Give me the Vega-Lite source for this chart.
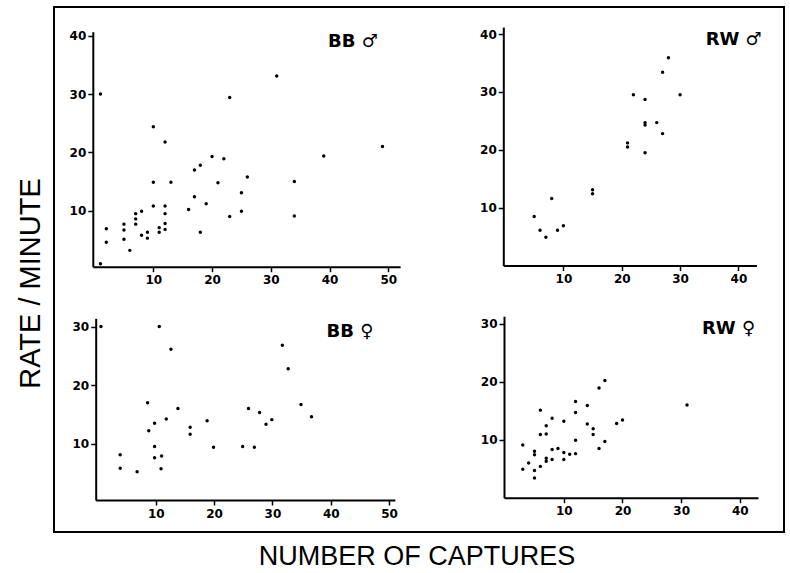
{
  "$schema": "https://vega.github.io/schema/vega-lite/v6.json",
  "width": 730,
  "height": 525,
  "autosize": {"type": "none"},
  "padding": {"left": 54, "top": 7, "right": 6, "bottom": 41},
  "background": "white",
  "title": {"text": "RATE / MINUTE", "orient": "left", "anchor": "middle", "font": "Liberation Sans", "fontSize": 29, "fontWeight": "normal", "color": "black", "offset": 8, "dx": -14},
  "config": {
    "view": {"stroke": "black", "strokeWidth": 2},
    "axis": {"domainColor": "black", "domainWidth": 2, "tickColor": "black", "tickWidth": 1.5, "tickSize": 5, "labelFont": "DejaVu Sans", "labelFontWeight": "bold", "labelFontSize": 12, "labelColor": "black", "grid": false, "labelFlush": false, "labelOverlap": false},
    "axisY": {"labelPadding": 2},
    "axisX": {"labelPadding": 3},
    "text": {"font": "DejaVu Sans", "fontWeight": "bold", "fontSize": 18, "color": "black", "align": "right", "baseline": "middle"},
    "circle": {"size": 12, "color": "black", "opacity": 1}
  },
  "datasets": {
    "bbm": [
      {"captures": 1, "rate": 30}, {"captures": 1, "rate": 0.9}, {"captures": 2, "rate": 6.9}, {"captures": 2, "rate": 4.6},
      {"captures": 5, "rate": 7.7}, {"captures": 5, "rate": 6.7}, {"captures": 5, "rate": 5.1}, {"captures": 6, "rate": 3.2},
      {"captures": 7, "rate": 9.5}, {"captures": 7, "rate": 8.6}, {"captures": 7, "rate": 7.7}, {"captures": 8, "rate": 9.9},
      {"captures": 8, "rate": 5.8}, {"captures": 9, "rate": 6.3}, {"captures": 9, "rate": 5.3}, {"captures": 10, "rate": 24.4},
      {"captures": 10, "rate": 14.9}, {"captures": 10, "rate": 10.8}, {"captures": 11, "rate": 7.1}, {"captures": 11, "rate": 6.3},
      {"captures": 12, "rate": 21.8}, {"captures": 12, "rate": 10.8}, {"captures": 12, "rate": 9.5}, {"captures": 12, "rate": 7.8},
      {"captures": 12, "rate": 6.8}, {"captures": 13, "rate": 14.9}, {"captures": 16, "rate": 10.2}, {"captures": 17, "rate": 17},
      {"captures": 17, "rate": 12.4}, {"captures": 18, "rate": 17.8}, {"captures": 18, "rate": 6.3}, {"captures": 19, "rate": 11.2},
      {"captures": 20, "rate": 19.3}, {"captures": 21, "rate": 14.8}, {"captures": 22, "rate": 18.9}, {"captures": 23, "rate": 29.4},
      {"captures": 23, "rate": 9.0}, {"captures": 25, "rate": 13.1}, {"captures": 25, "rate": 9.9}, {"captures": 26, "rate": 15.8},
      {"captures": 31, "rate": 33.1}, {"captures": 34, "rate": 15}, {"captures": 34, "rate": 9.1}, {"captures": 39, "rate": 19.4},
      {"captures": 49, "rate": 21}
    ],
    "rwm": [
      {"captures": 5, "rate": 8.5}, {"captures": 6, "rate": 6.1}, {"captures": 7, "rate": 4.9}, {"captures": 8, "rate": 11.6},
      {"captures": 9, "rate": 6.1}, {"captures": 10, "rate": 6.9}, {"captures": 15, "rate": 13.1}, {"captures": 15, "rate": 12.4},
      {"captures": 21, "rate": 21.2}, {"captures": 21, "rate": 20.5}, {"captures": 22, "rate": 29.5}, {"captures": 24, "rate": 28.7},
      {"captures": 24, "rate": 24.7}, {"captures": 24, "rate": 24.3}, {"captures": 24, "rate": 19.5}, {"captures": 26, "rate": 24.7},
      {"captures": 27, "rate": 33.4}, {"captures": 27, "rate": 22.8}, {"captures": 28, "rate": 35.9}, {"captures": 30, "rate": 29.5}
    ],
    "bbf": [
      {"captures": 0.6, "rate": 30}, {"captures": 10.6, "rate": 30}, {"captures": 12.6, "rate": 26.1}, {"captures": 3.9, "rate": 8.1},
      {"captures": 3.9, "rate": 5.8}, {"captures": 6.8, "rate": 5.2}, {"captures": 8.6, "rate": 17}, {"captures": 8.8, "rate": 12.2},
      {"captures": 9.8, "rate": 13.5}, {"captures": 9.8, "rate": 9.5}, {"captures": 9.8, "rate": 7.6}, {"captures": 11, "rate": 7.9},
      {"captures": 10.9, "rate": 5.7}, {"captures": 11.8, "rate": 14.2}, {"captures": 13.8, "rate": 16}, {"captures": 15.9, "rate": 12.8},
      {"captures": 15.9, "rate": 11.6}, {"captures": 18.8, "rate": 13.9}, {"captures": 19.9, "rate": 9.4}, {"captures": 24.9, "rate": 9.5},
      {"captures": 25.9, "rate": 16}, {"captures": 26.9, "rate": 9.4}, {"captures": 27.8, "rate": 15.3}, {"captures": 28.9, "rate": 13.3},
      {"captures": 29.9, "rate": 14.1}, {"captures": 31.7, "rate": 26.8}, {"captures": 32.7, "rate": 22.8}, {"captures": 34.9, "rate": 16.7},
      {"captures": 36.7, "rate": 14.6}
    ],
    "rwf": [
      {"captures": 3, "rate": 9.1}, {"captures": 3, "rate": 4.9}, {"captures": 4, "rate": 6}, {"captures": 5, "rate": 8},
      {"captures": 5, "rate": 7.4}, {"captures": 5, "rate": 4.7}, {"captures": 5, "rate": 3.4}, {"captures": 6, "rate": 15.1},
      {"captures": 6, "rate": 10.9}, {"captures": 6, "rate": 5.4}, {"captures": 7, "rate": 12.4}, {"captures": 7, "rate": 11},
      {"captures": 7, "rate": 6.8}, {"captures": 7, "rate": 6.3}, {"captures": 8, "rate": 13.7}, {"captures": 8, "rate": 8.3},
      {"captures": 8, "rate": 6.6}, {"captures": 9, "rate": 8.5}, {"captures": 10, "rate": 13.2}, {"captures": 10, "rate": 7.8},
      {"captures": 10, "rate": 6.6}, {"captures": 11, "rate": 7.5}, {"captures": 12, "rate": 16.6}, {"captures": 12, "rate": 14.7},
      {"captures": 12, "rate": 9.9}, {"captures": 12, "rate": 7.6}, {"captures": 14, "rate": 15.9}, {"captures": 14, "rate": 12.7},
      {"captures": 15, "rate": 11.9}, {"captures": 15, "rate": 10.9}, {"captures": 16, "rate": 18.9}, {"captures": 16, "rate": 8.5},
      {"captures": 17, "rate": 20.2}, {"captures": 17, "rate": 9.7}, {"captures": 19, "rate": 12.8}, {"captures": 20, "rate": 13.4},
      {"captures": 31, "rate": 16}
    ]
  },
  "layer": [
    {
      "data": {"name": "bbm"},
      "mark": {"type": "circle"},
      "encoding": {
        "x": {"field": "captures", "type": "quantitative", "scale": {"domain": [-0.3, 52], "range": [38.8, 346.1], "nice": false, "zero": false},
              "axis": {"orient": "bottom", "offset": -265.3, "values": [10, 20, 30, 40, 50], "title": null}},
        "y": {"field": "rate", "type": "quantitative", "scale": {"domain": [0.4, 40.7], "range": [259.7, 24.7], "nice": false, "zero": false},
              "axis": {"orient": "left", "offset": -38.8, "values": [10, 20, 30, 40], "title": null}}
      }
    },
    {
      "data": {"name": "rwm"},
      "mark": {"type": "circle"},
      "encoding": {
        "x": {"field": "captures", "type": "quantitative", "scale": {"domain": [-0.3, 43.1], "range": [449.3, 702.5], "nice": false, "zero": false},
              "axis": {"orient": "bottom", "offset": -266.4, "values": [10, 20, 30, 40], "title": null}},
        "y": {"field": "rate", "type": "quantitative", "scale": {"domain": [0, 41.2], "range": [258.6, 20.1], "nice": false, "zero": false},
              "axis": {"orient": "left", "offset": -449.3, "values": [10, 20, 30, 40], "title": null}}
      }
    },
    {
      "data": {"name": "bbf"},
      "mark": {"type": "circle"},
      "encoding": {
        "x": {"field": "captures", "type": "quantitative", "scale": {"domain": [-0.3, 51], "range": [41.7, 340.9], "nice": false, "zero": false},
              "axis": {"orient": "bottom", "offset": -32, "values": [10, 20, 30, 40, 50], "title": "NUMBER OF CAPTURES", "titleX": 362.5, "titleY": 56.5, "titleAlign": "center", "titleBaseline": "middle", "titleFont": "Liberation Sans", "titleFontSize": 27, "titleFontWeight": "normal", "titleColor": "black"}},
        "y": {"field": "rate", "type": "quantitative", "scale": {"domain": [0.38, 31.4], "range": [493, 311.3], "nice": false, "zero": false},
              "axis": {"orient": "left", "offset": -41.7, "values": [10, 20, 30], "title": null}}
      }
    },
    {
      "data": {"name": "rwf"},
      "mark": {"type": "circle"},
      "encoding": {
        "x": {"field": "captures", "type": "quantitative", "scale": {"domain": [-0.2, 43.1], "range": [450, 704], "nice": false, "zero": false},
              "axis": {"orient": "bottom", "offset": -34.3, "values": [10, 20, 30, 40], "title": null}},
        "y": {"field": "rate", "type": "quantitative", "scale": {"domain": [0, 31.3], "range": [490.7, 309.2], "nice": false, "zero": false},
              "axis": {"orient": "left", "offset": -450, "values": [10, 20, 30], "title": null}}
      }
    },
    {
      "data": {"values": [{"label": "BB ♂"}]},
      "mark": {"type": "text"},
      "encoding": {
        "x": {"datum": 48.2, "type": "quantitative", "scale": {"domain": [-0.3, 52], "range": [38.8, 346.1], "nice": false, "zero": false}, "axis": null},
        "y": {"datum": 39, "type": "quantitative", "scale": {"domain": [0.4, 40.7], "range": [259.7, 24.7], "nice": false, "zero": false}, "axis": null},
        "text": {"field": "label"}
      }
    },
    {
      "data": {"values": [{"label": "RW ♂"}]},
      "mark": {"type": "text"},
      "encoding": {
        "x": {"datum": 44.0, "type": "quantitative", "scale": {"domain": [-0.3, 43.1], "range": [449.3, 702.5], "nice": false, "zero": false}, "axis": null},
        "y": {"datum": 39, "type": "quantitative", "scale": {"domain": [0, 41.2], "range": [258.6, 20.1], "nice": false, "zero": false}, "axis": null},
        "text": {"field": "label"}
      }
    },
    {
      "data": {"values": [{"label": "BB ♀"}]},
      "mark": {"type": "text"},
      "encoding": {
        "x": {"datum": 47.3, "type": "quantitative", "scale": {"domain": [-0.3, 51], "range": [41.7, 340.9], "nice": false, "zero": false}, "axis": null},
        "y": {"datum": 29.1, "type": "quantitative", "scale": {"domain": [0.38, 31.4], "range": [493, 311.3], "nice": false, "zero": false}, "axis": null},
        "text": {"field": "label"}
      }
    },
    {
      "data": {"values": [{"label": "RW ♀"}]},
      "mark": {"type": "text"},
      "encoding": {
        "x": {"datum": 42.6, "type": "quantitative", "scale": {"domain": [-0.2, 43.1], "range": [450, 704], "nice": false, "zero": false}, "axis": null},
        "y": {"datum": 29.1, "type": "quantitative", "scale": {"domain": [0, 31.3], "range": [490.7, 309.2], "nice": false, "zero": false}, "axis": null},
        "text": {"field": "label"}
      }
    }
  ],
  "resolve": {"scale": {"x": "independent", "y": "independent"}, "axis": {"x": "independent", "y": "independent"}}
}
